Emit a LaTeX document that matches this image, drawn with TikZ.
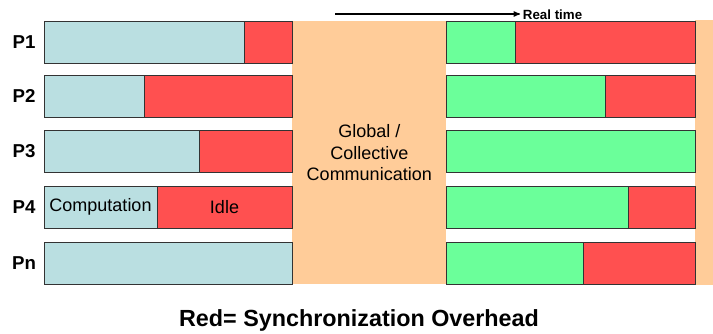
\documentclass[tikz,border=0pt]{standalone}
\usepackage{fontspec}
\setmainfont{Liberation Sans}
\usetikzlibrary{arrows, positioning}

\definecolor{compblue}{RGB}{186,223,225}
\definecolor{idlered}{RGB}{255,80,80}
\definecolor{workgreen}{RGB}{107,255,154}
\definecolor{commorange}{RGB}{255,204,153}

\begin{document}
\begin{tikzpicture}[x=0.75pt,y=-0.75pt,>=stealth',
  seg/.style={rectangle,draw=black!80,line width=0.7pt,inner sep=0pt,outer sep=0pt,
    minimum height=31.5pt,anchor=north west,font=\fontsize{13.5}{15}\selectfont},
  comp/.style={seg,fill=compblue},
  idle/.style={seg,fill=idlered},
  work/.style={seg,fill=workgreen},
  proc/.style={font=\fontsize{14}{16}\selectfont\bfseries}]

    \useasboundingbox (0,0) rectangle (713,333);

    % communication phase and right strip
    \node[fill=commorange,inner sep=0pt,anchor=north west,minimum width=115.5pt,
      minimum height=197.25pt,align=center,font=\fontsize{13.5}{16}\selectfont]
      (comm) at (292,21) {Global /\\Collective\\Communication};
    \node[fill=commorange,inner sep=0pt,anchor=north west,minimum width=13.5pt,
      minimum height=198.75pt] (strip) at (695,20) {};

    % first phase
    \node[comp,minimum width=150pt] (c1) at (44,21) {};
    \node[idle,minimum width=36pt,right=0pt of c1] (i1) {};
    \node[comp,minimum width=75pt] (c2) at (44,75) {};
    \node[idle,minimum width=111pt,right=0pt of c2] (i2) {};
    \node[comp,minimum width=116.25pt] (c3) at (44,130) {};
    \node[idle,minimum width=69.75pt,right=0pt of c3] (i3) {};
    \node[comp,minimum width=84.75pt] (c4) at (44,186) {Computation};
    \node[idle,minimum width=101.25pt,right=0pt of c4] (i4) {Idle};
    \node[comp,minimum width=186pt] (cn) at (44,242) {};

    % second phase
    \node[work,minimum width=51.75pt] (w1) at (446,21) {};
    \node[idle,minimum width=135pt,right=0pt of w1] (j1) {};
    \node[work,minimum width=119.25pt] (w2) at (446,75) {};
    \node[idle,minimum width=67.5pt,right=0pt of w2] (j2) {};
    \node[work,minimum width=186.75pt] (w3) at (446,130) {};
    \node[work,minimum width=136.5pt] (w4) at (446,186) {};
    \node[idle,minimum width=50.25pt,right=0pt of w4] (j4) {};
    \node[work,minimum width=102.75pt] (wn) at (446,242) {};
    \node[idle,minimum width=84pt,right=0pt of wn] (jn) {};

    % process labels
    \node[proc] (p1) at (24,42) {P1};
    \node[proc] (p2) at (24,96) {P2};
    \node[proc] (p3) at (24,151) {P3};
    \node[proc] (p4) at (24,207) {P4};
    \node[proc] (pn) at (24,263) {Pn};

    % time axis
    \coordinate (t0) at (335,14);
    \node[anchor=west,inner sep=2pt,font=\fontsize{10}{12}\selectfont\bfseries] (rt) at (520,15) {Real time};
    \draw[->,line width=0.8pt] (t0) -- (rt.west |- t0);

    \node[font=\fontsize{17.5}{20}\selectfont\bfseries] (note) at (359,320)
      {Red= Synchronization Overhead};
\end{tikzpicture}
\end{document}
